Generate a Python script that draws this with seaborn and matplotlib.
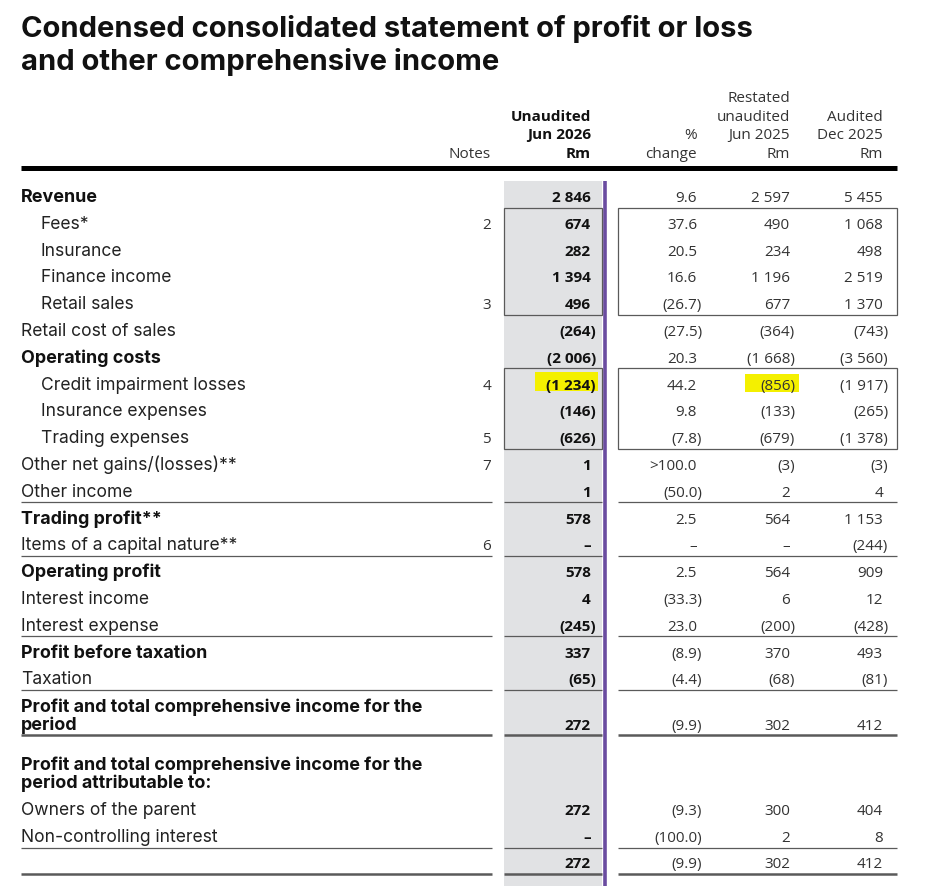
import matplotlib
matplotlib.use("Agg")
import matplotlib.pyplot as plt
import matplotlib.patches as mpatches
import seaborn as sns

sns.set_theme(style="white")
plt.rcParams["font.family"] = ["Inter", "DejaVu Sans"]

# statement rows
labels = ["Revenue", "Fees*", "Insurance", "Finance income", "Retail sales",
          "Retail cost of sales", "Operating costs", "Credit impairment losses",
          "Insurance expenses", "Trading expenses", "Other net gains/(losses)**",
          "Other income", "Trading profit**", "Items of a capital nature**",
          "Operating profit", "Interest income", "Interest expense",
          "Profit before taxation", "Taxation",
          "Profit and total comprehensive income for the\nperiod",
          "Profit and total comprehensive income for the\nperiod attributable to:",
          "Owners of the parent", "Non-controlling interest", ""]
notes = ["", "2", "", "", "3", "", "", "4", "", "5", "7", "", "", "6",
         "", "", "", "", "", "", "", "", "", ""]
jun26 = ["2 846", "674", "282", "1 394", "496", "(264)", "(2 006)", "(1 234)",
         "(146)", "(626)", "1", "1", "578", "–", "578", "4", "(245)", "337",
         "(65)", "272", "", "272", "–", "272"]
pct = ["9.6", "37.6", "20.5", "16.6", "(26.7)", "(27.5)", "20.3", "44.2", "9.8",
       "(7.8)", ">100.0", "(50.0)", "2.5", "–", "2.5", "(33.3)", "23.0", "(8.9)",
       "(4.4)", "(9.9)", "", "(9.3)", "(100.0)", "(9.9)"]
jun25 = ["2 597", "490", "234", "1 196", "677", "(364)", "(1 668)", "(856)",
         "(133)", "(679)", "(3)", "2", "564", "–", "564", "6", "(200)", "370",
         "(68)", "302", "", "300", "2", "302"]
dec25 = ["5 455", "1 068", "498", "2 519", "1 370", "(743)", "(3 560)", "(1 917)",
         "(265)", "(1 378)", "(3)", "4", "1 153", "(244)", "909", "12", "(428)",
         "493", "(81)", "412", "", "404", "8", "412"]
bold_rows = {0, 6, 12, 14, 17, 19, 20}
indent_rows = {1, 2, 3, 4, 7, 8, 9}
highlight_rows = {7}

headers = [["Notes"], ["Unaudited", "Jun 2026", "Rm"], ["%", "change"],
           ["Restated", "unaudited", "Jun 2025", "Rm"], ["Audited", "Dec 2025", "Rm"]]

# layout (pixels)
W, H = 945, 887
pitch = 26.8
baselines = [202 + pitch * k for k in range(19)] + [730, 788, 815, 842, 868]
x_label, x_indent = 21, 41
x_notes, x_cur, x_pct, x_prev, x_dec = 491, 591, 697, 790, 883
grey_l, grey_r, purple_x = 504, 602, 605
right_l, right_r = 618, 897
NUM = ["Open Sans", "DejaVu Sans"]
lab_fs, bold_fs, num_fs, title_fs = 12.6, 12.9, 11.0, 21
ink, soft = "#111111", "#333333"
rule = "#5a5a5a"

fig = plt.figure(figsize=(W / 100, H / 100), dpi=100)
ax = fig.add_axes([0, 0, 1, 1])
ax.set_xlim(0, W)
ax.set_ylim(H, 0)
ax.axis("off")

ax.text(x_label, 37, "Condensed consolidated statement of profit or loss",
        fontsize=title_fs, fontweight="bold", color=ink, va="baseline")
ax.text(x_label, 70, "and other comprehensive income",
        fontsize=title_fs, fontweight="bold", color=ink, va="baseline")

# header
head_base = 158
for xr, lines, bold in zip([x_notes, x_cur, x_pct, x_prev, x_dec], headers,
                           [False, True, False, False, False]):
    for i, t in enumerate(reversed(lines)):
        ax.text(xr, head_base - 18.7 * i, t, ha="right", va="baseline",
                fontsize=num_fs, family=NUM, color=ink if bold else soft,
                fontweight="bold" if bold else "normal")
ax.plot([x_label, right_r], [168.5, 168.5], color="black", lw=3.6,
        solid_capstyle="butt")

# shaded current-period column and purple rule
ax.add_patch(mpatches.Rectangle((grey_l, 182), grey_r - grey_l, H - 182,
                                color="#e1e2e4", lw=0, zorder=0))
ax.plot([purple_x, purple_x], [182, H], color="#6a4ca0", lw=2.6,
        solid_capstyle="butt")

# boxes round the breakdowns
for top, bot in [(209, 316), (369, 450)]:
    for l, r in [(grey_l, grey_r), (right_l, right_r)]:
        ax.add_patch(mpatches.Rectangle((l, top), r - l, bot - top, fill=False,
                                        ec=rule, lw=0.9, zorder=2))

# horizontal rules
segments = [(x_label, 492), (grey_l, grey_r), (right_l, right_r)]
for y, lw in [(503, 0.9), (557, 0.9), (637, 0.9), (691, 0.9), (736, 1.8),
              (849, 0.9), (875, 1.8)]:
    for l, r in segments:
        ax.plot([l, r], [y, y], color=rule, lw=lw, solid_capstyle="butt")

# highlighter marks
for r in highlight_rows:
    b = baselines[r]
    ax.add_patch(mpatches.Rectangle((535, b - 17), 63, 19, color="#f4f000",
                                    lw=0, zorder=1))
    ax.add_patch(mpatches.Rectangle((745, b - 15), 54, 18, color="#f4f000",
                                    lw=0, zorder=1))


def num(x, y, s, bold=False):
    if not s:
        return
    dx = 5 if s.endswith(")") else 0
    ax.text(x + dx, y, s, ha="right", va="baseline", fontsize=num_fs,
            family=NUM, color=ink if bold else soft, zorder=3,
            fontweight="bold" if bold else "normal")


for i, lab in enumerate(labels):
    b = baselines[i]
    bold = i in bold_rows
    x0 = x_indent if i in indent_rows else x_label
    lines = lab.split("\n")
    for j, t in enumerate(lines):
        ax.text(x0, b - 18 * (len(lines) - 1 - j), t, va="baseline",
                fontsize=bold_fs if bold else lab_fs,
                color=ink if bold else "#222222",
                fontweight="bold" if bold else "normal")
    num(x_notes, b, notes[i])
    num(x_cur, b, jun26[i], bold=True)
    num(x_pct, b, pct[i])
    num(x_prev, b, jun25[i])
    num(x_dec, b, dec25[i])

fig.savefig("out.png", dpi=100)
